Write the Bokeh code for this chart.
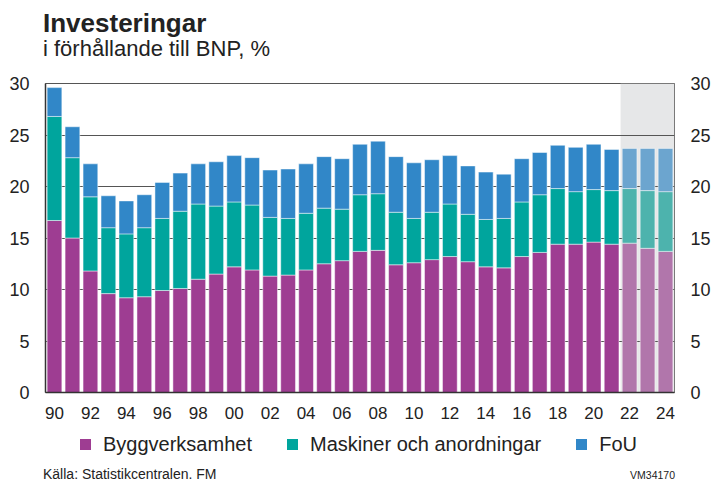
from bokeh.plotting import figure
from bokeh.layouts import column
from bokeh.models import (ColumnDataSource, FixedTicker, LinearAxis, Range1d,
                          BoxAnnotation, Div)
from bokeh.transform import stack
from bokeh.embed import file_html
from bokeh.resources import INLINE

# ---------------- data ----------------
years = list(range(1990, 2025))
byggverksamhet = [16.7, 15.0, 11.8, 9.6, 9.2, 9.3, 9.9, 10.1, 11.0, 11.5,
                  12.2, 11.9, 11.3, 11.4, 11.9, 12.5, 12.8, 13.7, 13.8, 12.4,
                  12.6, 12.9, 13.2, 12.7, 12.2, 12.1, 13.2, 13.6, 14.4, 14.4,
                  14.6, 14.4, 14.5, 14.0, 13.7]
maskiner = [10.1, 7.8, 7.2, 6.4, 6.2, 6.7, 7.0, 7.5, 7.3, 6.6,
            6.3, 6.3, 5.7, 5.5, 5.5, 5.4, 5.0, 5.5, 5.5, 5.1,
            4.3, 4.6, 5.1, 4.6, 4.6, 4.8, 5.3, 5.6, 5.4, 5.1,
            5.1, 5.2, 5.3, 5.6, 5.8]
fou = [2.8, 3.0, 3.2, 3.1, 3.2, 3.2, 3.5, 3.7, 3.9, 4.3,
       4.5, 4.6, 4.6, 4.8, 4.8, 5.0, 4.9, 4.9, 5.1, 5.4,
       5.4, 5.1, 4.7, 4.7, 4.6, 4.3, 4.2, 4.1, 4.2, 4.3,
       4.4, 4.0, 3.9, 4.1, 4.2]
forecast_from = 2022
series_names = ["Byggverksamhet", "Maskiner och anordningar", "FoU"]
tick_years = list(range(1990, 2025, 2))
tick_labels = ["90", "92", "94", "96", "98", "00", "02", "04", "06", "08",
               "10", "12", "14", "16", "18", "20", "22", "24"]
y_ticks = [0, 5, 10, 15, 20, 25, 30]
title = "Investeringar"
subtitle = "i förhållande till BNP, %"
source_note = "Källa: Statistikcentralen. FM"
chart_id = "VM34170"

# ---------------- styles ----------------
FONT = "Liberation Sans"
TXT = "#222222"
col_bygg = ("#9E3D92", "#B176AB")
col_mask = ("#00A59D", "#4DB3AD")
col_fou = ("#3187C8", "#6CA5CF")


def colors(pair):
    return [pair[1] if y >= forecast_from else pair[0] for y in years]


src = ColumnDataSource(dict(
    year=years, bygg=byggverksamhet, mask=maskiner, fou=fou,
    c_bygg=colors(col_bygg), c_mask=colors(col_mask), c_fou=colors(col_fou),
))

W = 713
HEAD_H = 70
FIG_BOTTOM = 430
FOOT_H = 482 - FIG_BOTTOM
FIG_H = FIG_BOTTOM - HEAD_H
FRAME_TOP, FRAME_BOTTOM = 83, 392

p = figure(width=W, height=FIG_H, output_backend="svg", toolbar_location=None,
           x_range=Range1d(1989.5, 2024.5), y_range=Range1d(0, 30),
           min_border_left=45, min_border_right=38,
           min_border_top=FRAME_TOP - HEAD_H,
           min_border_bottom=FIG_BOTTOM - FRAME_BOTTOM)
p.background_fill_color = "white"
p.border_fill_color = "white"
p.outline_line_color = "#555555"
p.outline_line_width = 1

# forecast shading
box = BoxAnnotation(left=forecast_from - 0.5, right=years[-1] + 0.5,
                    fill_color="#E6E7E8", fill_alpha=1.0, line_color=None,
                    level="underlay")
p.add_layout(box)

bw = 0.82
common = dict(x="year", width=bw, source=src, line_color="white",
              line_alpha=0.6, line_width=0.8)
r1 = p.vbar(bottom=0, top=stack("bygg"), fill_color="c_bygg", **common)
r2 = p.vbar(bottom=stack("bygg"), top=stack("bygg", "mask"),
            fill_color="c_mask", **common)
r3 = p.vbar(bottom=stack("bygg", "mask"), top=stack("bygg", "mask", "fou"),
            fill_color="c_fou", **common)

# grid
p.xgrid.visible = False
p.ygrid.ticker = FixedTicker(ticks=y_ticks)
p.ygrid.grid_line_color = "#555555"
p.ygrid.grid_line_width = 1


def style_axis(ax, size, standoff):
    ax.major_label_text_font = FONT
    ax.major_label_text_font_size = size
    ax.major_label_text_color = TXT
    ax.major_tick_line_color = None
    ax.minor_tick_line_color = None
    ax.major_tick_out = 0
    ax.major_tick_in = 0
    ax.minor_tick_out = 0
    ax.minor_tick_in = 0
    ax.major_label_standoff = standoff


p.xaxis.ticker = FixedTicker(ticks=tick_years)
p.xaxis.major_label_overrides = {y: l for y, l in zip(tick_years, tick_labels)}
style_axis(p.xaxis[0], "17px", 14)
p.xaxis.axis_line_color = "#333333"
p.xaxis.axis_line_width = 1.5

p.yaxis.ticker = FixedTicker(ticks=y_ticks)
style_axis(p.yaxis[0], "18px", 16)
p.yaxis.axis_line_color = "#333333"
p.yaxis.axis_line_width = 1.5

ry = LinearAxis(ticker=FixedTicker(ticks=y_ticks))
style_axis(ry, "18px", 16)
ry.axis_line_color = None
p.add_layout(ry, "right")

# draw shading before the grid so grid lines stay visible on it
p.center = [box] + [r for r in p.center if r is not box]

# header, legend and footer texts
span = ("position:absolute;white-space:nowrap;font-family:'Liberation Sans';"
        "color:%s;" % TXT)
head_html = (
    f'<div style="position:relative;width:{W}px;height:{HEAD_H}px;">'
    f'<span style="{span}left:43px;top:9.5px;font-size:26px;line-height:26px;'
    f'font-weight:bold;">{title}</span>'
    f'<span style="{span}left:43px;top:37.5px;font-size:22px;line-height:22px;">'
    f'{subtitle}</span></div>'
)

legend_items = ""
for name, pair in zip(series_names, (col_bygg, col_mask, col_fou)):
    legend_items += (
        f'<span style="display:inline-block;width:11px;height:11px;'
        f'background:{pair[0]};margin-right:12px;flex:none;"></span>'
        f'<span style="margin-right:35px;flex:none;">{name}</span>'
    )
legend_html = (
    f'<div style="{span}left:80px;top:4px;height:20px;display:flex;'
    f'align-items:center;font-size:20px;line-height:20px;">{legend_items}</div>'
)

foot_html = (
    f'<div style="position:relative;width:{W}px;height:{FOOT_H}px;">'
    f'{legend_html}'
    f'<span style="{span}left:43px;top:37px;font-size:14px;line-height:14px;">'
    f'{source_note}</span>'
    f'<span style="{span}right:38px;top:40px;font-size:10.5px;line-height:10.5px;">'
    f'{chart_id}</span></div>'
)
header = Div(text=head_html, width=W, height=HEAD_H, margin=0)
footer = Div(text=foot_html, width=W, height=FOOT_H, margin=0)

layout = column(header, p, footer, spacing=0, margin=0)

open("out.html", "w").write(file_html(layout, INLINE))
